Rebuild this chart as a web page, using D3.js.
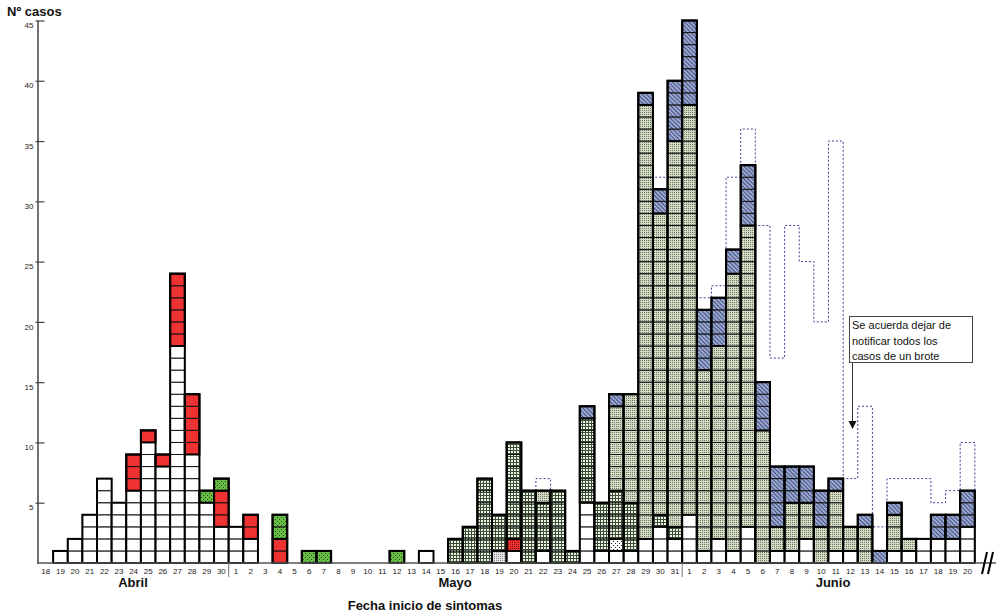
<!DOCTYPE html>
<html>
<head>
<meta charset="utf-8">
<script src="https://cdn.jsdelivr.net/npm/d3@7"></script>
<style>
  body { margin: 0; background: #fff; }
  svg { display: block; font-family: "Liberation Sans", Arial, sans-serif; }
</style>
</head>
<body>
<div id="chart"></div>
<script>
// day labels, 18 April .. 20 June
var aprilDays = ["18","19","20","21","22","23","24","25","26","27","28","29","30"];
var mayDays = ["1","2","3","4","5","6","7","8","9","10","11","12","13","14","15","16","17","18","19","20",
  "21","22","23","24","25","26","27","28","29","30","31"];
var juneDays = ["1","2","3","4","5","6","7","8","9","10","11","12","13","14","15","16","17","18","19","20"];
var months = ["Abril", "Mayo", "Junio"];

// cases per day for each stacked group (bottom to top)
//                 |--------------- Abril ----------------|-------------------------------- Mayo ------------------------------------------|---------------------------- Junio ------------------------|
var white      = [0,1,2,4,7,5,6,10,8,18,9,5,3, 3,2,0,0,0,0,0,0,0,0,0,0,0,1,0,0,0,0,0,1,0,1,0,0,5,1,1,1,2,3,2, 4,1,2,1,3,0,1,1,2,0,1,1,0,0,1,1,2,2,2,3];
var whiteDot   = [0,0,0,0,0,0,0,0,0,0,0,0,0, 0,0,0,0,0,0,0,0,0,0,0,0,0,0,0,0,0,0,0,0,0,0,0,0,0,0,1,0,0,0,0, 0,0,0,0,0,0,0,0,0,0,0,0,0,0,0,0,0,0,0,0];
var grayDot    = [0,0,0,0,0,0,0,0,0,0,0,0,0, 0,0,0,0,0,0,0,0,0,0,0,0,0,0,0,0,0,0,1,0,0,0,0,0,0,0,0,0,0,0,0, 0,0,0,0,0,0,0,0,0,0,0,0,0,0,0,0,0,0,0,0];
var redGrid    = [0,0,0,0,0,0,0,0,0,0,0,0,0, 0,0,0,0,0,0,0,0,0,0,0,0,0,0,0,0,0,0,0,1,0,0,0,0,0,0,0,0,0,0,0, 0,0,0,0,0,0,0,0,0,0,0,0,0,0,0,0,0,0,0,0];
var red        = [0,0,0,0,0,0,3,1,1,6,5,0,3, 0,2,0,2,0,0,0,0,0,0,0,0,0,0,0,0,0,0,0,0,0,0,0,0,0,0,0,0,0,0,0, 0,0,0,0,0,0,0,0,0,0,0,0,0,0,0,0,0,0,0,0];
var greenDot   = [0,0,0,0,0,0,0,0,0,0,0,1,1, 0,0,0,2,0,1,1,0,0,0,0,1,0,0,0,0,0,0,0,0,0,0,0,0,0,0,0,0,0,0,0, 0,0,0,0,0,0,0,0,0,0,0,0,0,0,0,0,0,0,0,0];
var gridGreen  = [0,0,0,0,0,0,0,0,0,0,0,0,0, 0,0,0,0,0,0,0,0,0,0,0,0,0,0,0,2,3,7,3,8,6,4,6,1,7,4,4,4,0,1,1, 0,0,0,0,0,0,0,0,0,0,0,0,0,0,0,0,0,0,0,0];
var sage       = [0,0,0,0,0,0,0,0,0,0,0,0,0, 0,0,0,0,0,0,0,0,0,0,0,0,0,0,0,0,0,0,0,0,0,1,0,0,0,0,7,9,36,25,32, 34,15,16,23,25,11,2,4,3,3,5,2,3,0,3,1,0,0,0,0];
var blue       = [0,0,0,0,0,0,0,0,0,0,0,0,0, 0,0,0,0,0,0,0,0,0,0,0,0,0,0,0,0,0,0,0,0,0,0,0,0,1,0,1,0,1,2,5, 7,5,4,2,5,4,5,3,3,3,1,0,1,1,1,0,0,2,2,3];
// dotted outline (null = not drawn)
var dotted     = [null,null,null,null,null,null,null,null,null,null,null,null,null,
  null,null,null,null,null,null,null,null,null,null,null,null,null,null,null,null,null,null,null,null,null,7,null,null,null,null,null,null,null,32,null,
  null,22,23,32,36,28,17,28,25,20,35,7,13,3,7,7,7,5,6,10];

var dayLabels = aprilDays.concat(mayDays, juneDays);
var groups = [
  {name: "white", values: white, fill: "#ffffff"},
  {name: "whiteDot", values: whiteDot, fill: "url(#pWhiteDot)"},
  {name: "grayDot", values: grayDot, fill: "url(#pGrayDot)"},
  {name: "redGrid", values: redGrid, fill: "url(#pRedGrid)"},
  {name: "red", values: red, fill: "#ee3131"},
  {name: "greenDot", values: greenDot, fill: "url(#pGreenDot)"},
  {name: "grid", values: gridGreen, fill: "url(#pGrid)"},
  {name: "sage", values: sage, fill: "url(#pSage)"},
  {name: "blue", values: blue, fill: "url(#pBlue)"}
];

var width = 997, height = 614;
var svg = d3.select("#chart").append("svg")
  .attr("width", width).attr("height", height);

var defs = svg.append("defs");
function pat(id, w, h, bg, dots, dotColor) {
  var p = defs.append("pattern").attr("id", id).attr("patternUnits", "userSpaceOnUse")
    .attr("width", w).attr("height", h);
  p.append("rect").attr("width", w).attr("height", h).attr("fill", bg);
  dots.forEach(function (d) {
    p.append("rect").attr("x", d[0]).attr("y", d[1]).attr("width", d[2] || 1).attr("height", d[3] || 1).attr("fill", dotColor);
  });
  return p;
}
pat("pSage", 2, 2, "#d3dac6", [[0, 0]], "#6a785c");
pat("pGrid", 3, 3, "#eef6e4", [[0, 0, 3, 1], [0, 0, 1, 3]], "#3c4c38");
pat("pGreenDot", 4, 4, "#67bd45", [[1, 1], [3, 3]], "#1d4a12");
pat("pGrayDot", 2, 2, "#e4e4e4", [[0, 0]], "#8a8a8a");
pat("pRedGrid", 2, 2, "#ee3333", [[0, 0]], "#8a0d0d");
pat("pWhiteDot", 4, 4, "#ffffff", [[1, 1], [3, 3]], "#222");
var pb = pat("pBlue", 3, 3, "#9aa7d0", [[0, 0, 1, 3]], "#46527f");
pb.attr("patternTransform", "rotate(-45)");

var x = d3.scaleBand().domain(d3.range(dayLabels.length)).range([38.5, 974.8]).padding(0);
var y = d3.scaleLinear().domain([0, 45]).range([563, 20.5]);
var unit = y(0) - y(1);

// dotted outline runs (drawn first, bars cover what lies below)
var runs = [], cur = null;
dotted.forEach(function (v, i) {
  if (v == null) { cur = null; return; }
  if (!cur) { cur = []; runs.push(cur); }
  cur.push(i);
});
runs.forEach(function (r) {
  var p = d3.path();
  p.moveTo(x(r[0]), y(0));
  r.forEach(function (i) {
    p.lineTo(x(i), y(dotted[i]));
    p.lineTo(x(i) + x.bandwidth(), y(dotted[i]));
  });
  p.lineTo(x(r[r.length - 1]) + x.bandwidth(), y(0));
  svg.append("path").attr("d", p.toString()).attr("fill", "none")
    .attr("stroke", "#3b3f9a").attr("stroke-width", 1).attr("stroke-dasharray", "2,2");
});

// stacked unit cells
var bars = svg.append("g");
dayLabels.forEach(function (lab, i) {
  var base = 0;
  groups.forEach(function (g) {
    var n = g.values[i];
    if (!n) return;
    for (var k = 0; k < n; k++) {
      bars.append("rect")
        .attr("x", x(i)).attr("y", y(base + k + 1))
        .attr("width", x.bandwidth()).attr("height", unit)
        .attr("fill", g.fill).attr("stroke", "#111").attr("stroke-width", 1);
    }
    if (g.name !== "white") {
      bars.append("rect")
        .attr("x", x(i)).attr("y", y(base + n))
        .attr("width", x.bandwidth()).attr("height", unit * n)
        .attr("fill", "none").attr("stroke", "#000").attr("stroke-width", 2);
    }
    base += n;
  });
  if (base > 0) {
    bars.append("rect")
      .attr("x", x(i)).attr("y", y(base))
      .attr("width", x.bandwidth()).attr("height", unit * base)
      .attr("fill", "none").attr("stroke", "#000").attr("stroke-width", 2);
  }
});

// x axis
var xAxis = svg.append("g").attr("transform", "translate(0," + y(0) + ")")
  .call(d3.axisBottom(x).tickSize(0).tickPadding(5).tickFormat(function (i) { return dayLabels[i]; }));
xAxis.select(".domain").remove();
xAxis.selectAll("text").attr("font-size", "8px").attr("fill", "#222")
  .attr("font-family", "'Liberation Sans Narrow', 'Arial Narrow', 'Liberation Sans', sans-serif");
svg.append("line").attr("x1", 37).attr("x2", 996).attr("y1", y(0)).attr("y2", y(0))
  .attr("stroke", "#555").attr("stroke-width", 1.5);
[aprilDays.length, aprilDays.length + mayDays.length].forEach(function (i) {
  svg.append("line").attr("x1", x(i)).attr("x2", x(i)).attr("y1", y(0)).attr("y2", y(0) + 14)
    .attr("stroke", "#777").attr("stroke-width", 1);
});
// axis break
[[982, 987], [988, 993]].forEach(function (b) {
  svg.append("line").attr("x1", b[0]).attr("y1", 574).attr("x2", b[1]).attr("y2", 552)
    .attr("stroke", "#000").attr("stroke-width", 2);
});

// month labels
var monthX = [133, 455, 833];
months.forEach(function (m, k) {
  svg.append("text").attr("x", monthX[k]).attr("y", 587).attr("text-anchor", "middle")
    .attr("font-size", "13px").attr("font-weight", "bold").attr("fill", "#111").text(m);
});
svg.append("text").attr("x", 425).attr("y", 610).attr("text-anchor", "middle")
  .attr("font-size", "13px").attr("font-weight", "bold").attr("fill", "#111").text("Fecha inicio de sintomas");

// y axis
var yAxis = svg.append("g").attr("transform", "translate(37.5,0)")
  .call(d3.axisLeft(y).tickValues([5, 10, 15, 20, 25, 30, 35, 40, 45]).tickSizeInner(-7).tickSizeOuter(0).tickPadding(4));
yAxis.select(".domain").attr("stroke", "#444").attr("stroke-width", 1.5);
yAxis.selectAll(".tick line").attr("stroke", "#444").attr("stroke-width", 1.2).attr("x1", -2);
yAxis.selectAll("text").attr("font-size", "8px").attr("fill", "#222").attr("dy", "0.9em");
svg.append("text").attr("x", 7).attr("y", 16).attr("font-size", "13px").attr("font-weight", "bold")
  .attr("fill", "#111").text("Nº casos");

// annotation
var note = svg.append("g");
note.append("rect").attr("x", 849.5).attr("y", 316.5).attr("width", 123).attr("height", 46)
  .attr("fill", "#fff").attr("stroke", "#444").attr("stroke-width", 1);
["Se acuerda dejar de", "notificar todos los", "casos de un brote"].forEach(function (t, k) {
  note.append("text").attr("x", 852).attr("y", 329 + k * 15.5).attr("font-size", "11px")
    .attr("fill", "#111").text(t);
});
note.append("line").attr("x1", 852.5).attr("x2", 852.5).attr("y1", 363).attr("y2", 422)
  .attr("stroke", "#333").attr("stroke-width", 1);
note.append("path").attr("d", "M848.5,421 L856.5,421 L852.5,429 Z").attr("fill", "#111");
</script>
</body>
</html>
